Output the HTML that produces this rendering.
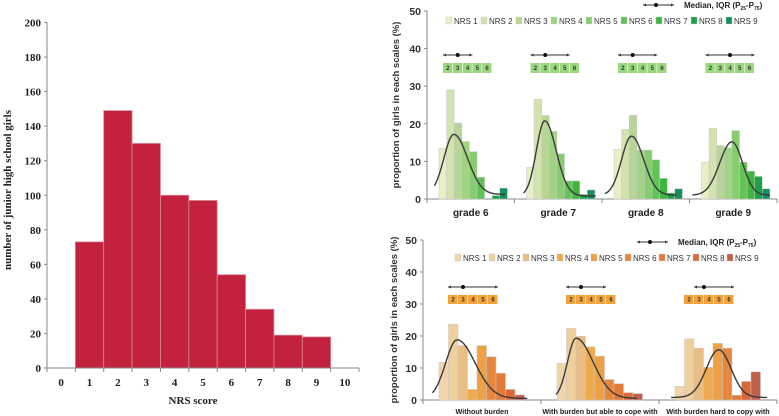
<!DOCTYPE html>
<html><head><meta charset="utf-8"><style>
html,body{margin:0;padding:0;background:#fff;}
svg{display:block;font-family:"Liberation Sans",sans-serif;}
.serif{font-family:"Liberation Serif",serif;font-weight:bold;}
</style></head><body>
<svg id="svg" width="779" height="416" viewBox="0 0 779 416" xmlns="http://www.w3.org/2000/svg"></svg>
<script>
// ---- Left chart data ----
const leftCats = [1,2,3,4,5,6,7,8,9];
const leftVals = [73,149,130,100,97,54,34,19,18];
const leftYTicks = [0,20,40,60,80,100,120,140,160,180,200];
const leftXTicks = [0,1,2,3,4,5,6,7,8,9,10];
// ---- Top right (grades) ----
const gradeCats = ["grade 6","grade 7","grade 8","grade 9"];
const gradeVals = [
 [13.5,29,20.2,15.3,12.6,5.8,0,0.9,2.9],
 [8.4,26.5,22.2,18,12,4.8,4.8,1.2,2.4],
 [13.2,18.5,22.3,13,13,10.4,5.5,1.6,2.7],
 [9.8,18.8,14.2,13.6,18.2,9.8,7.4,6,2.7]];
const gradeIQR = [[2,3,4],[2,3,5],[2,3,5],[2,4,6]];
// [peak, mode, sdLeft, sdRight, baseline, start, end]
const gradeCurve = [[17.2,2.45,1.3,1.8,1.2,-0.1,9.2],[20.8,2.9,1.1,1.5,0.8,0.1,9.6],[16.7,2.8,1.3,1.6,1.0,-0.7,8.7],[15.2,4.5,1.6,1.4,1.0,-0.7,9.5]];
// ---- Bottom right (burden) ----
const burdenCats = ["Without burden","With burden but able to cope with","With burden hard to copy with"];
const burdenVals = [
 [11.8,23.7,17,3.3,17,13.5,8.4,3.3,1.6],
 [11.5,22.4,19.9,16.6,13.7,6.4,5.1,2.3,2],
 [4.3,19.1,16.2,10.2,17.7,16.2,1.5,5.8,8.8]];
const burdenIQR = [[2,3,6],[2,3,5],[3,3.5,6]];
const burdenCurve = [[18.8,2.4,1.2,1.9,0.5,-0.2,9.8],[19.3,2.5,0.9,1.8,0.5,0.4,8.9],[15.7,5.1,1.3,1.3,0.8,0.1,10.2]];
const pctTicks = [0,10,20,30,40,50];
const nrsNames = ["NRS 1","NRS 2","NRS 3","NRS 4","NRS 5","NRS 6","NRS 7","NRS 8","NRS 9"];
const greens = ["#e6efc6","#d2e3ae","#b7d597","#a0d383","#85cd6e","#63c356","#3fb63d","#1aa34a","#16905e"];
const oranges = ["#f1d4a9","#efcf9c","#e9bd83","#f0aa4e","#eea044","#e8873b","#e27b3a","#db6a3b","#c0614b"];

const svg = document.getElementById('svg');
const NS = "http://www.w3.org/2000/svg";
function mk(tag, attrs, parent){ const e=document.createElementNS(NS,tag); for(const k in attrs) e.setAttribute(k,attrs[k]); (parent||svg).appendChild(e); return e; }
function txt(s, attrs, parent){ const e=mk('text',attrs,parent); e.textContent=s; return e; }

// ===== Left chart =====
(function(){
  const g = mk('g',{});
  
  
  const x0=47, xr=359, y0=368, yTop=22.5;
  const bw = (xr-x0)/11;
  const xs = v => x0 + v*bw;   // left edge of bin v
  const ys = v => y0 - v/200*(y0-yTop);
  leftCats.forEach((c,i)=>{
    const r=mk('rect',{x:xs(c), y:ys(leftVals[i]), width:bw, height:y0-ys(leftVals[i]), fill:'#c3223f', stroke:'#d98a96','stroke-width':0.8},g);
    
    
  });
  mk('line',{x1:x0,y1:yTop,x2:x0,y2:y0,stroke:'#888','stroke-width':1},g);
  mk('line',{x1:x0,y1:y0,x2:xr,y2:y0,stroke:'#888','stroke-width':1},g);
  leftYTicks.forEach(t=>{
    mk('line',{x1:x0-3,y1:ys(t),x2:x0,y2:ys(t),stroke:'#888'},g);
    const e=txt(t,{x:x0-6,y:ys(t)+4,'text-anchor':'end','font-size':11,class:'serif',fill:'#222'},g);
    
    
  });
  for(let k=0;k<=11;k++) mk('line',{x1:xs(k),y1:y0,x2:xs(k),y2:y0+4,stroke:'#888'},g);
  leftXTicks.forEach(t=>{
    const e=txt(t,{x:xs(t)+bw/2,y:386,'text-anchor':'middle','font-size':11,class:'serif',fill:'#222'},g);
    
    
  });
  const xt=txt('NRS score',{x:193,y:404,'text-anchor':'middle','font-size':11,class:'serif',fill:'#222'},g);
  
  
  const yt=txt('number of junior high school girls',{x:0,y:0,transform:'translate(11,190) rotate(-90)','text-anchor':'middle','font-size':11,class:'serif',fill:'#222'},g);
  
  
})();

// ===== Panel builder =====
function panel(o){
  const g=mk('g',{});
  
  
  const ys = v => o.y0 - v/50*(o.y0-o.yTop);
  const gw=(o.xr-o.x0)/o.cats.length;
  mk('line',{x1:o.x0,y1:o.yTop,x2:o.x0,y2:o.y0,stroke:'#888'},g);
  mk('line',{x1:o.x0,y1:o.y0,x2:o.xr,y2:o.y0,stroke:'#888'},g);
  pctTicks.forEach(t=>{
    mk('line',{x1:o.x0-3,y1:ys(t),x2:o.x0,y2:ys(t),stroke:'#888'},g);
    const e=txt(t,{x:o.x0-6,y:ys(t)+4,'text-anchor':'end','font-size':10.5,'font-weight':'bold',fill:'#333'},g);
    
    
  });
  for(let k=0;k<=o.cats.length;k++) mk('line',{x1:o.x0+k*gw,y1:o.y0,x2:o.x0+k*gw,y2:o.y0+4,stroke:'#888'},g);
  const yt=txt('proportion of girls in each scales (%)',{x:0,y:0,transform:`translate(${o.ytx},${(o.yTop+o.y0)/2}) rotate(-90)`,'text-anchor':'middle','font-size':9.5,'font-weight':'bold',fill:'#333'},g);
  
  
  o.cats.forEach((c,gi)=>{
    const gx=o.x0+gi*gw, bx=gx+o.bOff;
    o.vals[gi].forEach((v,i)=>{
      if(v<=0) return;
      const r=mk('rect',{x:bx+i*o.bw,y:ys(v),width:o.bw,height:o.y0-ys(v),fill:o.colors[i],stroke:'#c8c8c8','stroke-width':0.5},g);
      
      
    });
    const [A,mu,sl,sr,b,s0,s1]=o.curve[gi]; let d='';
    for(let s=s0;s<=s1+1e-6;s+=0.1){
      const sd = s<mu?sl:sr;
      const v=b+(A-b)*Math.exp(-0.5*((s-mu)/sd)**2);
      const xx=bx+(s-0.5)*o.bw, yy=ys(v);
      d+=(d?'L':'M')+xx.toFixed(1)+','+yy.toFixed(1);
    }
    const p=mk('path',{d:d,fill:'none',stroke:'#3a3a3a','stroke-width':1.4},g);
    
    
    const bl=gx+o.boxOff, cw=o.cw;
    for(let k=0;k<5;k++){
      const r=mk('rect',{x:bl+k*cw,y:o.boxY,width:cw-0.6,height:o.boxH,fill:o.boxFill},g);
      
      
      txt(k+2,{x:bl+k*cw+cw/2,y:o.boxY+o.boxH/2+2.2,'text-anchor':'middle','font-size':6,'font-weight':'bold',fill:'#333'},g);
    }
    const [q1,md,q3]=o.iqr[gi];
    const lx=bl+(q1-2)*cw, rx=bl+(q3-1)*cw, mx=bl+(md-1.5)*cw, ly=o.boxY-8;
    const iq=mk('line',{x1:lx,y1:ly,x2:rx,y2:ly,stroke:'#333','stroke-width':1},g);
    
    
    mk('path',{d:`M${lx},${ly}l3,-1.5v3z M${rx},${ly}l-3,-1.5v3z`,fill:'#333'},g);
    mk('circle',{cx:mx,cy:ly,r:2,fill:'#111'},g);
    const cl=txt(c,{x:gx+gw/2+o.labDx,y:o.labY,'text-anchor':'middle','font-size':o.labFs,'font-weight':'bold',fill:'#222'},g);
    
    
  });
  const lm=mk('g',{},g);
  
  
  mk('line',{x1:o.medX,y1:o.medY,x2:o.medX+31,y2:o.medY,stroke:'#333'},lm);
  mk('path',{d:`M${o.medX},${o.medY}l3,-1.5v3z M${o.medX+31},${o.medY}l-3,-1.5v3z`,fill:'#333'},lm);
  mk('circle',{cx:o.medX+13,cy:o.medY,r:2,fill:'#111'},lm);
  const mt=txt('Median, IQR (P',{x:o.medX+41,y:o.medY+3,'font-size':8,'font-weight':'bold',fill:'#222'},lm);
  const t1=mk('tspan',{'font-size':5,dy:2},mt); t1.textContent='25';
  const t2=mk('tspan',{dy:-2},mt); t2.textContent='-P';
  const t3=mk('tspan',{'font-size':5,dy:2},mt); t3.textContent='75';
  const t4=mk('tspan',{dy:-2},mt); t4.textContent=')';
  nrsNames.forEach((n,i)=>{
    const le=mk('g',{},g);
    
    
    const lx=o.legX+i*o.legS;
    mk('rect',{x:lx,y:o.legY-4,width:6,height:7,fill:o.colors[i],stroke:'#ccc','stroke-width':0.4},le);
    txt(n,{x:lx+8,y:o.legY+3,'font-size':8,fill:'#333'},le);
  });
}
panel({name:'grade-panel',cats:gradeCats,vals:gradeVals,iqr:gradeIQR,curve:gradeCurve,colors:greens,
 x0:427,xr:777,y0:199,yTop:11,bOff:12,bw:7.6,ytx:399,
 boxOff:16,cw:9.8,boxY:63,boxH:10,boxFill:'#9ad77f',
 labY:216,labFs:10,labDx:0,medX:643,medY:5,legX:446,legS:35,legY:21});
panel({name:'burden-panel',cats:burdenCats,vals:burdenVals,iqr:burdenIQR,curve:burdenCurve,colors:oranges,
 x0:423,xr:777,y0:400,yTop:240,bOff:16,bw:9.5,ytx:397,
 boxOff:25,cw:10,boxY:295,boxH:9,boxFill:'#f4a23c',
 labY:414,labFs:7.2,labDx:0,medX:637,medY:242,legX:455,legS:34,legY:258});
</script>
</body></html>
